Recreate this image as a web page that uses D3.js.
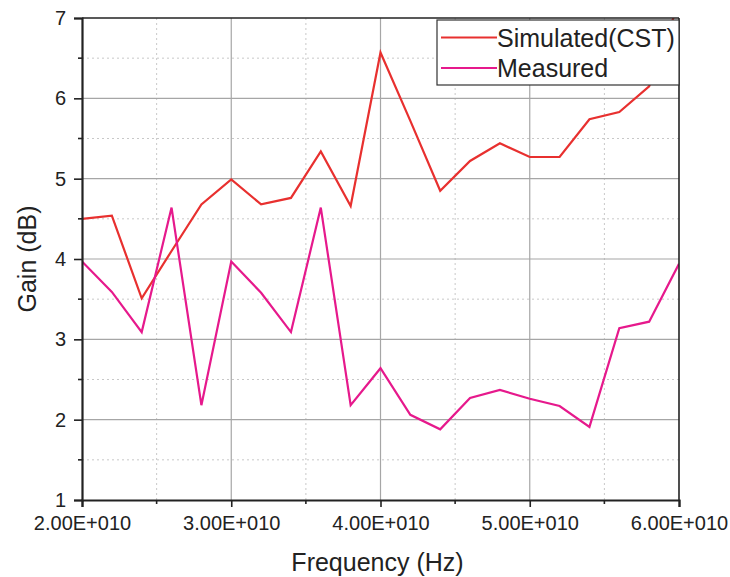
<!DOCTYPE html>
<html>
<head>
<meta charset="utf-8">
<script src="https://cdn.jsdelivr.net/npm/d3@7"></script>
<style>
  html, body { margin: 0; padding: 0; background: #fff; }
  svg { display: block; font-family: "Liberation Sans", Arial, Helvetica, sans-serif; }
</style>
</head>
<body>
<svg id="chart" width="730" height="577"></svg>
<script>
// Frequency samples (Hz), every 2 GHz from 20 to 60 GHz
const frequencies = [2.0e10, 2.2e10, 2.4e10, 2.6e10, 2.8e10, 3.0e10, 3.2e10, 3.4e10, 3.6e10, 3.8e10,
                     4.0e10, 4.2e10, 4.4e10, 4.6e10, 4.8e10, 5.0e10, 5.2e10, 5.4e10, 5.6e10, 5.8e10, 6.0e10];
// Gain (dB)
const simulatedGain = [4.50, 4.54, 3.51, 4.10, 4.68, 4.99, 4.68, 4.76, 5.34, 4.66,
                       6.57, 5.72, 4.85, 5.22, 5.44, 5.27, 5.27, 5.74, 5.83, 6.15, 7.20];
const measuredGain  = [3.97, 3.59, 3.09, 4.64, 2.18, 3.97, 3.58, 3.09, 4.64, 2.18,
                       2.64, 2.06, 1.88, 2.27, 2.37, 2.26, 2.17, 1.91, 3.14, 3.22, 3.94];
const seriesNames = ["Simulated(CST)", "Measured"];
const xTickValues = [2e10, 3e10, 4e10, 5e10, 6e10];
const yTickValues = [1, 2, 3, 4, 5, 6, 7];

const colors = ["#e8302f", "#e6198c"];

const svg = d3.select("#chart");
const m = { left: 82, right: 51, top: 18, bottom: 77 };
const W = 730, H = 577;
const x = d3.scaleLinear().domain([2e10, 6e10]).range([m.left, W - m.right]);
const y = d3.scaleLinear().domain([1, 7]).range([H - m.bottom, m.top]);

const fmt = v => (v / 1e10).toFixed(2) + "E+010";

// grid: minor (dotted) then major (solid)
const xMinor = d3.range(2.5e10, 6e10, 1e10);
const yMinor = d3.range(1.5, 7, 1);
const grid = svg.append("g");
grid.selectAll(".gxm").data(xMinor).join("line")
  .attr("x1", d => x(d)).attr("x2", d => x(d)).attr("y1", y(1)).attr("y2", y(7))
  .attr("stroke", "#c8c8c8").attr("stroke-width", 1).attr("stroke-dasharray", "2,3");
grid.selectAll(".gym").data(yMinor).join("line")
  .attr("y1", d => y(d)).attr("y2", d => y(d)).attr("x1", x(2e10)).attr("x2", x(6e10))
  .attr("stroke", "#c8c8c8").attr("stroke-width", 1).attr("stroke-dasharray", "2,3");
grid.selectAll(".gx").data(xTickValues.slice(1, -1)).join("line")
  .attr("x1", d => x(d)).attr("x2", d => x(d)).attr("y1", y(1)).attr("y2", y(7))
  .attr("stroke", "#a6a6a6").attr("stroke-width", 1.2);
grid.selectAll(".gy").data(yTickValues.slice(1, -1)).join("line")
  .attr("y1", d => y(d)).attr("y2", d => y(d)).attr("x1", x(2e10)).attr("x2", x(6e10))
  .attr("stroke", "#a6a6a6").attr("stroke-width", 1.2);

// clip
svg.append("clipPath").attr("id", "plotclip").append("rect")
  .attr("x", x(2e10)).attr("y", y(7)).attr("width", x(6e10) - x(2e10)).attr("height", y(1) - y(7));

const line = d3.line().x((d, i) => x(frequencies[i])).y(d => y(d));
const plot = svg.append("g").attr("clip-path", "url(#plotclip)");
[simulatedGain, measuredGain].forEach((s, k) => {
  plot.append("path").datum(s).attr("d", line)
    .attr("fill", "none").attr("stroke", colors[k]).attr("stroke-width", 2.2)
    .attr("stroke-linejoin", "miter");
});

// frame top / right
svg.append("line").attr("x1", x(2e10)).attr("x2", x(6e10)).attr("y1", y(7)).attr("y2", y(7))
  .attr("stroke", "#222").attr("stroke-width", 1.6);
svg.append("line").attr("x1", x(6e10)).attr("x2", x(6e10)).attr("y1", y(7)).attr("y2", y(1))
  .attr("stroke", "#222").attr("stroke-width", 1.6);

// axes
const xAxis = svg.append("g").attr("transform", `translate(0,${y(1)})`)
  .call(d3.axisBottom(x).tickValues(xTickValues).tickFormat(fmt).tickSize(7).tickPadding(9));
const yAxis = svg.append("g").attr("transform", `translate(${x(2e10)},0)`)
  .call(d3.axisLeft(y).tickValues(yTickValues).tickFormat(d3.format("d")).tickSize(8).tickPadding(8));
[xAxis, yAxis].forEach(a => {
  a.select(".domain").attr("stroke", "#222").attr("stroke-width", 2.2);
  a.selectAll(".tick line").attr("stroke", "#222").attr("stroke-width", 1.6);
  a.selectAll(".tick text").attr("fill", "#222").style("font-size", "20px")
    .style("font-family", '"Liberation Sans", Arial, sans-serif');
});
// minor ticks
svg.append("g").selectAll("line").data(xMinor).join("line")
  .attr("x1", d => x(d)).attr("x2", d => x(d)).attr("y1", y(1)).attr("y2", y(1) + 4)
  .attr("stroke", "#222").attr("stroke-width", 1.6);
svg.append("g").selectAll("line").data(yMinor).join("line")
  .attr("y1", d => y(d)).attr("y2", d => y(d)).attr("x1", x(2e10)).attr("x2", x(2e10) - 4)
  .attr("stroke", "#222").attr("stroke-width", 1.6);

// axis titles
svg.append("text").attr("x", (x(2e10) + x(6e10)) / 2 - 3).attr("y", 571)
  .attr("text-anchor", "middle").attr("fill", "#222").style("font-size", "25px")
  .text("Frequency (Hz)");
svg.append("text").attr("transform", `translate(36,${(y(1) + y(7)) / 2}) rotate(-90)`)
  .attr("text-anchor", "middle").attr("fill", "#222").style("font-size", "25px")
  .text("Gain (dB)");

// legend
const lg = svg.append("g");
lg.append("rect").attr("x", 437).attr("y", 20).attr("width", 242).attr("height", 65)
  .attr("fill", "#fff").attr("stroke", "#333").attr("stroke-width", 1.2);
seriesNames.forEach((name, k) => {
  const ly = 37.5 + k * 30.5;
  lg.append("line").attr("x1", 441).attr("x2", 497).attr("y1", ly).attr("y2", ly)
    .attr("stroke", colors[k]).attr("stroke-width", 2.2);
  lg.append("text").attr("x", 497).attr("y", ly + 9).attr("fill", "#222")
    .style("font-size", "25px").text(name);
});
</script>
</body>
</html>
